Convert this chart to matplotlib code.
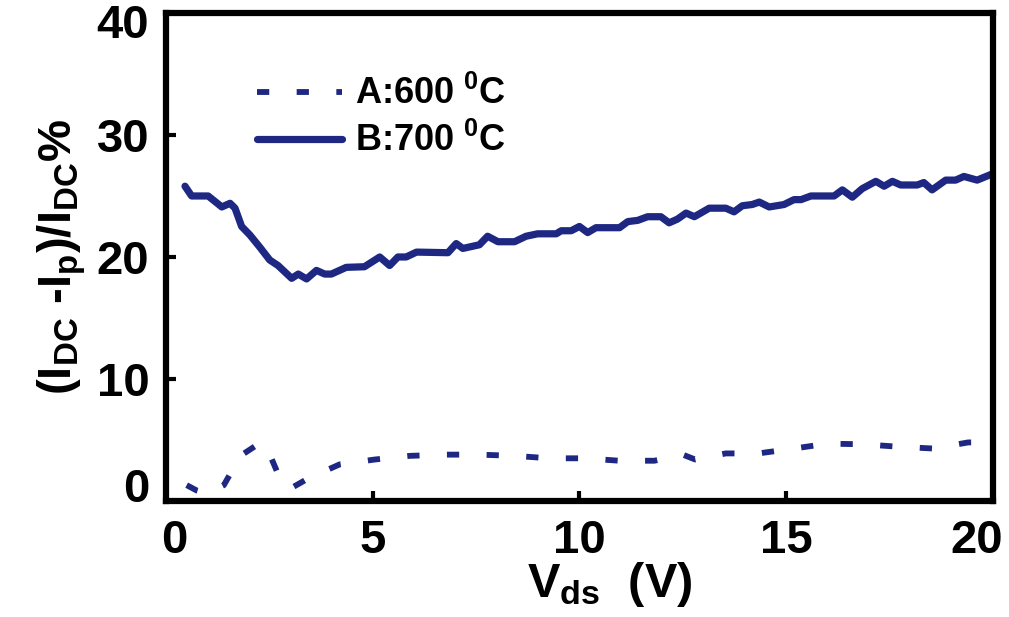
import matplotlib
matplotlib.use('Agg')
from matplotlib import pyplot as plt
from matplotlib.transforms import ScaledTranslation

plt.rcParams['font.family'] = ['Liberation Sans', 'DejaVu Sans']
plt.rcParams['font.weight'] = 'bold'
plt.rcParams['mathtext.fontset'] = 'custom'
plt.rcParams['mathtext.rm'] = 'Liberation Sans:bold'
plt.rcParams['mathtext.it'] = 'Liberation Sans:bold'
plt.rcParams['mathtext.bf'] = 'Liberation Sans:bold'

# B: 700 C (solid)
vds_b = [0.46, 0.62, 1.02, 1.35, 1.55, 1.67, 1.83, 2.03, 2.27, 2.51, 2.71, 3.04, 3.2, 3.4,
         3.64, 3.84, 4.0, 4.36, 4.8, 5.17, 5.41, 5.61, 5.81, 6.06, 6.82, 7.02, 7.18, 7.58,
         7.78, 8.03, 8.43, 8.71, 8.99, 9.44, 9.56, 9.8, 10.0, 10.2, 10.4, 10.97, 11.17,
         11.41, 11.65, 11.97, 12.17, 12.37, 12.58, 12.78, 13.14, 13.54, 13.74, 13.94,
         14.18, 14.35, 14.59, 14.95, 15.19, 15.36, 15.6, 16.16, 16.36, 16.6, 16.84, 17.17,
         17.37, 17.57, 17.77, 18.17, 18.33, 18.53, 18.86, 19.1, 19.3, 19.62, 19.98]
ratio_b = [25.8, 25.0, 25.0, 24.1, 24.4, 24.0, 22.5, 21.8, 20.8, 19.75, 19.3, 18.25, 18.6, 18.2,
           18.9, 18.6, 18.6, 19.15, 19.2, 20.0, 19.3, 20.0, 20.0, 20.4, 20.35, 21.1, 20.7, 21.0,
           21.7, 21.25, 21.25, 21.7, 21.9, 21.9, 22.15, 22.15, 22.5, 22.0, 22.4, 22.4, 22.9,
           23.0, 23.3, 23.3, 22.8, 23.1, 23.6, 23.3, 24.0, 24.0, 23.7, 24.2,
           24.3, 24.5, 24.1, 24.3, 24.7, 24.7, 25.0, 25.0, 25.5, 24.9, 25.6, 26.2,
           25.8, 26.2, 25.9, 25.9, 26.1, 25.5, 26.3, 26.3, 26.6, 26.3, 26.8]

# A: 600 C (dashed)
vds_a = [0.5, 0.75, 1.0, 1.4, 1.8, 2.27, 2.45, 2.75, 3.0, 3.44, 4.2, 5.05, 5.9, 6.74, 7.58,
         8.43, 9.28, 10.12, 10.97, 11.81, 12.5, 12.8, 13.54, 14.33, 15.19, 16.0, 16.86,
         17.71, 18.56, 19.4, 19.8]
ratio_a = [1.3, 0.85, 0.6, 1.3, 3.7, 4.75, 4.3, 1.9, 1.0, 1.85, 3.0, 3.4, 3.7, 3.8, 3.8,
           3.7, 3.5, 3.5, 3.3, 3.3, 3.8, 3.4, 3.9, 3.9, 4.3, 4.7, 4.65,
           4.45, 4.3, 4.8, 4.8]

xticks = [0, 5, 10, 15, 20]
yticks = [0, 10, 20, 30, 40]
navy = '#1e2782'

fig = plt.figure(figsize=(10.09, 6.17), dpi=100)
ax = fig.add_axes([0.1645, 0.188, 0.8195, 0.791])

ax.plot(vds_a, ratio_a, color=navy, lw=4.2, dashes=(2.1, 4.7), dash_capstyle='butt',
        label='A:600 $^0$C')
ax.plot(vds_b, ratio_b, color=navy, lw=5.2, solid_capstyle='round', solid_joinstyle='round',
        label='B:700 $^0$C')

ax.set_xlim(0, 20)
ax.set_ylim(0, 40)
ax.set_xticks(xticks)
ax.set_yticks(yticks)
ax.tick_params(direction='in', length=7, width=3, labelsize=34, color='black')
ax.tick_params(axis='x', pad=13)
ax.tick_params(axis='y', pad=12)
for s in ax.spines.values():
    s.set_linewidth(4.5)
for lab in ax.get_xticklabels() + ax.get_yticklabels():
    lab.set_fontweight('bold')

ax.set_xlabel('V$_{ds}$  (V)', fontsize=35, fontweight='bold', labelpad=-2)
ax.xaxis.label.set_x(0.5 + 30 / 827)
ax.set_ylabel('(I$_{DC}$ -I$_p$)/I$_{DC}$%', fontsize=34, fontweight='bold', labelpad=6)

leg = ax.legend(loc='upper left', bbox_to_anchor=(0.093, 0.9), frameon=False, fontsize=26,
                handlelength=2.35, handletextpad=0.35, labelspacing=0.3, borderaxespad=0)
for t in leg.get_texts():
    t.set_fontweight('bold')

# small label offsets as in the original figure
fig.canvas.draw()
xl = ax.xaxis.get_major_ticks()
yl = ax.yaxis.get_major_ticks()
xl[0].label1.set_transform(xl[0].label1.get_transform() + ScaledTranslation(8 / 100, 0, fig.dpi_scale_trans))
xl[-1].label1.set_transform(xl[-1].label1.get_transform() + ScaledTranslation(-16 / 100, 0, fig.dpi_scale_trans))
yl[0].label1.set_transform(yl[0].label1.get_transform() + ScaledTranslation(0, 16 / 100, fig.dpi_scale_trans))
yl[-1].label1.set_transform(yl[-1].label1.get_transform() + ScaledTranslation(0, -8 / 100, fig.dpi_scale_trans))

fig.savefig('out.png', dpi=100)
